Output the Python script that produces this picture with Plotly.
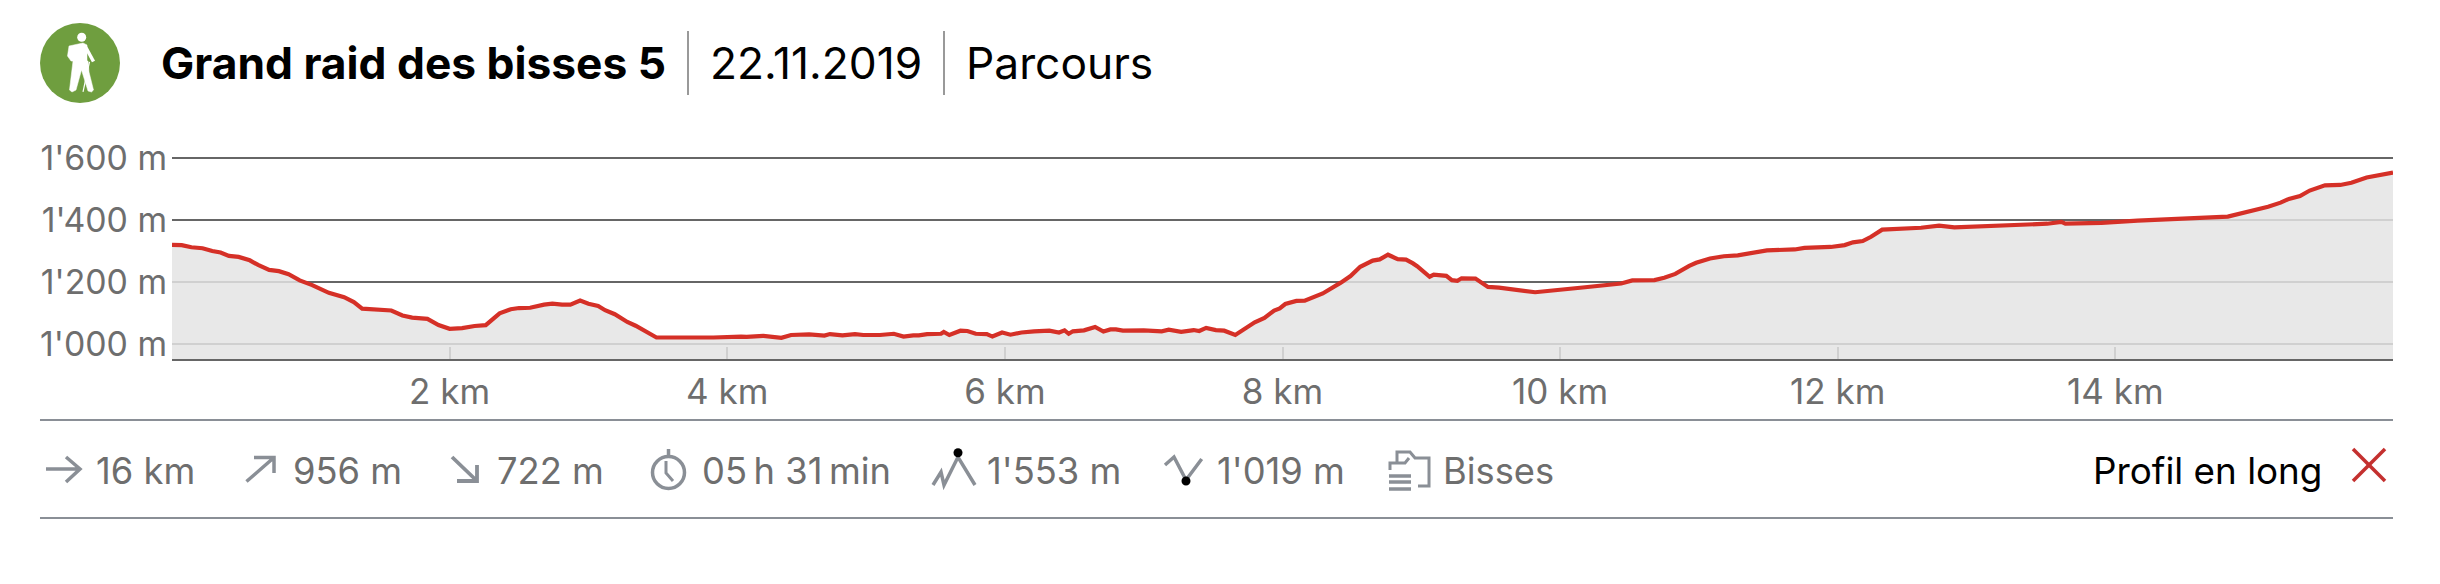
import plotly.graph_objects as go

W, H = 2440, 584

distance_km = [0.00,0.07,0.14,0.22,0.29,0.35,0.41,0.48,0.56,0.62,0.70,0.77,0.84,0.92,1.01,1.13,1.24,1.31,1.37,1.44,1.52,1.58,1.66,1.73,1.84,1.92,2.00,2.09,2.18,2.26,2.36,2.44,2.50,2.58,2.68,2.74,2.81,2.87,2.94,3.00,3.07,3.12,3.19,3.28,3.34,3.41,3.49,3.60,3.76,
3.83,3.90,4.10,4.14,4.26,4.34,4.39,4.46,4.54,4.59,4.70,4.74,4.83,4.92,4.98,5.10,5.20,5.27,5.34,5.38,5.44,5.54,5.56,5.60,5.68,5.73,5.79,5.87,5.91,5.98,6.04,6.12,6.21,6.32,6.39,6.43,6.46,6.49,6.57,6.65,6.71,6.76,6.80,6.85,7.00,7.05,7.13,7.18,7.27,7.36,7.40,7.45,7.52,
7.58,7.66,7.80,7.87,7.94,7.98,8.02,8.10,8.16,8.23,8.29,8.42,8.49,8.56,8.65,8.70,8.76,8.83,8.89,8.94,8.97,9.06,9.09,9.18,9.22,9.26,9.29,9.39,9.44,9.48,9.56,9.82,10.18,10.35,10.44,10.52,10.68,10.75,10.83,10.93,10.98,11.08,11.18,11.28,
11.40,11.49,11.69,11.76,11.95,12.05,12.11,12.18,12.24,12.32,12.60,12.73,12.84,13.13,13.51,13.61,13.64,13.90,14.16,14.81,15.01,15.10,15.19,15.25,15.33,15.40,15.51,15.62,15.70,15.81,16.00]

elevation_m = [1320,1319,1312,1309,1300,1295,1284,1281,1270,1255,1239,1235,1225,1205,1190,1165,1151,1135,1114,1112,1112,1108,1092,1085,1081,1061,1049,1051,1058,1061,1099,1112,1116,1117,1127,1130,1127,1127,1140,1130,1123,1109,1096,1071,1059,1040,1021,1021,1021,
1019,1021,1024,1023,1026,1024,1020,1029,1029,1031,1027,1032,1028,1032,1029,1029,1033,1024,1028,1028,1032,1033,1039,1029,1043,1042,1033,1032,1024,1037,1030,1037,1041,1043,1037,1044,1033,1041,1044,1055,1040,1047,1047,1043,1044,1043,1041,1046,1039,1045,1042,1052,1045,
1043,1029,1070,1084,1108,1115,1129,1139,1140,1151,1163,1198,1219,1249,1269,1273,1288,1274,1272,1260,1251,1217,1224,1220,1206,1204,1212,1211,1194,1184,1182,1167,1183,1189,1195,1205,1206,1214,1226,1252,1262,1276,1283,1286,
1295,1302,1305,1310,1313,1319,1328,1332,1346,1369,1375,1382,1376,1380,1388,1394,1388,1391,1398,1411,1431,1443,1456,1468,1477,1495,1512,1513,1520,1537,1553]

y_ticks = [1000, 1200, 1400, 1600]
y_labels = ["1'000 m", "1'200 m", "1'400 m", "1'600 m"]
x_ticks = [2, 4, 6, 8, 10, 12, 14]
x_labels = ["2 km", "4 km", "6 km", "8 km", "10 km", "12 km", "14 km"]

header_texts = ["Grand raid des bisses 5", "22.11.2019", "Parcours"]
stat_texts = ["16 km", "956 m", "722 m", "05\u2009h 31\u2009min", "1'553 m", "1'019 m", "Bisses"]
profile_label = "Profil en long"

FONT = "Inter, 'Noto Sans', sans-serif"
GREY_TXT = "#6e6e6e"
ICON = "#8a8f96"
RED = "#d53027"


def px(x):
    return x / W


def py(y):
    return 1 - y / H


def pth(*pts):
    """Build an SVG path from pixel points; a None starts a new subpath."""
    out, new = [], True
    for p in pts:
        if p is None:
            new = True
            continue
        out.append(f"{'M' if new else 'L'}{px(p[0]):.5f},{py(p[1]):.5f}")
        new = False
    return " ".join(out)


def line_shape(*pts, color=ICON, width=3):
    return dict(type="path", xref="paper", yref="paper", path=pth(*pts),
                line=dict(color=color, width=width), fillcolor="rgba(0,0,0,0)")


def fill_shape(*pts, color="white"):
    return dict(type="path", xref="paper", yref="paper", path=pth(*pts) + " Z",
                line=dict(color=color, width=0.5), fillcolor=color)


def circle(cx, cy, r, fill=None, color=ICON, width=3):
    return dict(type="circle", xref="paper", yref="paper",
                x0=px(cx - r), x1=px(cx + r), y0=py(cy + r), y1=py(cy - r),
                fillcolor=fill if fill else "rgba(0,0,0,0)",
                line=dict(color=color, width=width if not fill else 0))


fig = go.Figure()
fig.add_trace(go.Scatter(
    x=distance_km, y=elevation_m, mode="lines", fill="tozeroy",
    fillcolor="rgba(228,228,228,0.843)",
    line=dict(color=RED, width=4.2), hoverinfo="skip", showlegend=False,
))

shapes = [
    # header
    circle(80, 63, 40, fill="#6f9e3f"),
    circle(81.7, 37.3, 4.5, fill="white"),
    fill_shape((69, 46), (83, 43), (87, 45), (87, 62), (71, 61), (67.5, 56)),
    line_shape((85, 46), (93.5, 61.5), color="white", width=3.5),
    fill_shape((73, 61), (88, 61), (89, 72), (93.5, 90), (91.5, 92), (88, 91),
               (81.5, 70), (76, 90), (72, 92), (69.5, 90)),
    line_shape((89.5, 62), (83, 92), color="white", width=1.2),
    line_shape((688, 31), (688, 95), color="#999999", width=2),
    line_shape((944, 31), (944, 95), color="#999999", width=2),
    # separators
    line_shape((40, 420), (2393, 420), color=ICON, width=2),
    line_shape((40, 518), (2393, 518), color=ICON, width=2),
    # distance arrow
    line_shape((46, 469), (80, 469), None, (66, 457), (80, 469), (66, 482), width=3.5),
    # up arrow
    line_shape((246.5, 481.5), (274, 457.5), None, (254, 457.5), (274, 457.5), (274, 473), width=3.5),
    # down arrow
    line_shape((452, 457), (477, 481), None, (477, 465), (477, 481), (457, 481), width=3.8),
    # clock
    circle(668.5, 472.5, 16, width=3.5),
    line_shape((668.5, 449), (668.5, 456), width=3.5),
    line_shape((666, 461), (666, 473), (673, 481), width=3),
    # peak
    line_shape((933, 485), (941, 472), (944, 485), (958, 457), (975, 485), width=3.5),
    circle(958, 452.7, 4.5, fill="#000000"),
    # valley
    line_shape((1165, 465), (1174, 457), (1186, 480), (1201.7, 459), width=3.5),
    circle(1186, 481, 4.5, fill="#000000"),
    # bisses
    line_shape((1397, 463), (1397, 452), (1410, 452), (1415, 458), (1429, 458), (1429, 486), (1418, 486), width=3),
    line_shape((1390, 470), (1390, 463), (1405, 463), (1409, 458), width=3),
    line_shape((1389, 476), (1411, 476), width=3.5),
    line_shape((1389, 482), (1411, 482), width=3.5),
    line_shape((1389, 489), (1411, 489), width=3.5),
    # close cross
    line_shape((2353, 449), (2385, 481), color="#c4302f", width=3.5),
    line_shape((2385, 449), (2353, 481), color="#c4302f", width=3.5),
]


def label(text, x, y, size, color, anchor="left", bold=False):
    return dict(text=f"<b>{text}</b>" if bold else text, xref="paper", yref="paper",
                x=px(x), y=py(y), xanchor=anchor, yanchor="middle", showarrow=False,
                font=dict(family=FONT, size=size, color=color), borderpad=0, borderwidth=0)


STAT_Y = 470.5
annotations = [
    label(header_texts[0], 161, 63, 44.3, "#000000", bold=True),
    label(header_texts[1], 710, 63, 44.3, "#000000"),
    label(header_texts[2], 966, 63, 44.3, "#000000"),
    label(stat_texts[0], 96, STAT_Y, 36.3, GREY_TXT),
    label(stat_texts[1], 293, STAT_Y, 36.3, GREY_TXT),
    label(stat_texts[2], 497, STAT_Y, 36.3, GREY_TXT),
    label(stat_texts[3], 702, STAT_Y, 36.3, GREY_TXT),
    label(stat_texts[4], 987, STAT_Y, 36.3, GREY_TXT),
    label(stat_texts[5], 1217, STAT_Y, 36.3, GREY_TXT),
    label(stat_texts[6], 1443, STAT_Y, 36.3, GREY_TXT),
    label(profile_label, 2322, STAT_Y, 36.8, "#000000", anchor="right"),
]

fig.update_layout(
    template="none",
    width=W, height=H, autosize=False,
    margin=dict(l=0, r=0, t=0, b=0, pad=0),
    paper_bgcolor="white", plot_bgcolor="white",
    shapes=shapes, annotations=annotations, showlegend=False,
    xaxis=dict(
        domain=[px(172), px(2393)], range=[0, 16], tickvals=x_ticks, ticktext=x_labels,
        ticks="inside", ticklen=12, tickwidth=2, tickcolor="#d0d0d0",
        showgrid=False, zeroline=False, showline=True, linecolor="#666666", linewidth=2,
        tickfont=dict(family=FONT, size=35, color=GREY_TXT), ticklabelstandoff=1,
        automargin=False,
    ),
    yaxis=dict(
        domain=[py(359), py(156)], range=[951.6, 1606.45], tickvals=y_ticks, ticktext=y_labels,
        ticks="", showgrid=True, gridcolor="#666666", gridwidth=2, zeroline=False,
        showline=False, tickfont=dict(family=FONT, size=33.8, color=GREY_TXT), ticklabelstandoff=4,
        automargin=False,
    ),
)

fig.write_html("out.html", config=dict(displayModeBar=False),
               post_script="document.body.style.margin='0';document.body.style.overflow='hidden';")
